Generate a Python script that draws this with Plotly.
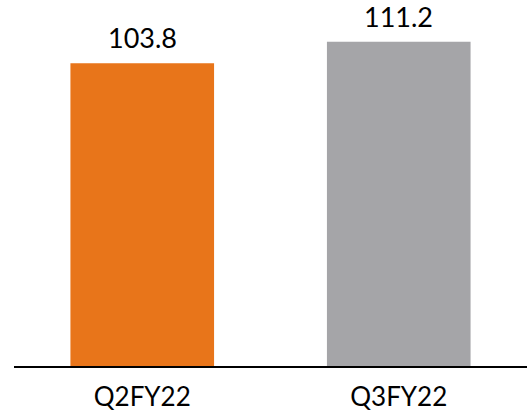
import plotly.graph_objects as go

# Quarterly values
quarters = ["Q2FY22", "Q3FY22"]
values = [103.8, 111.2]
bar_colors = ["#E8751A", "#A5A5A8"]

fig = go.Figure()
fig.add_trace(go.Bar(
    x=quarters,
    y=values,
    marker=dict(color=bar_colors, line=dict(width=0)),
    hoverinfo="x+y",
))

# Value labels above each bar
for q, v in zip(quarters, values):
    fig.add_annotation(
        x=q, y=v, text=f"{v:.1f}", showarrow=False,
        yanchor="bottom", yshift=7,
        font=dict(family="Lato", size=27, color="#000000"),
    )

fig.update_layout(
    width=529, height=414,
    margin=dict(l=14, r=2, t=16, b=46),
    paper_bgcolor="white", plot_bgcolor="white",
    bargap=0.44,
    showlegend=False,
    font=dict(family="Lato", size=26, color="#000000"),
)
fig.update_xaxes(
    showline=True, linecolor="#000000", linewidth=1.5,
    showgrid=False, ticks="", tickfont=dict(size=26),
    ticklabelstandoff=7,
    range=[-0.5, 1.5],
)
fig.update_yaxes(
    range=[0, 120], visible=False, showgrid=False, zeroline=False,
)

fig.write_html("out.html")
